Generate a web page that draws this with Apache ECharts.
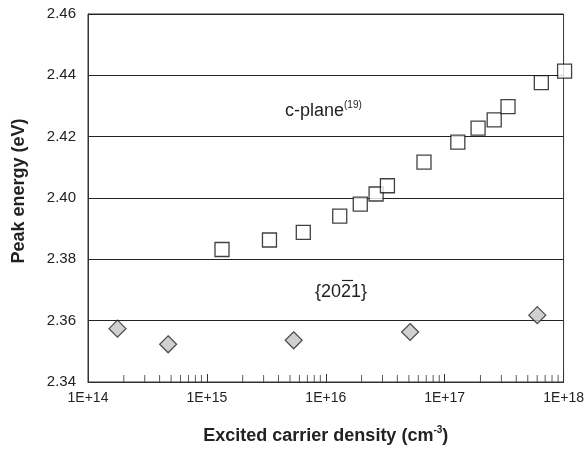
<!DOCTYPE html>
<html><head><meta charset="utf-8">
<script src="https://cdn.jsdelivr.net/npm/echarts@6/dist/echarts.min.js"></script>
<style>html,body{margin:0;padding:0;background:#fff}#c{width:587px;height:450px}</style>
</head><body><div id="c"></div>
<script>
// c-plane data: [density cm^-3, peak energy eV]
const cplaneX = [1.34e15, 3.36e15, 6.47e15, 1.31e16, 1.95e16, 2.65e16, 3.30e16, 6.70e16, 1.29e17, 1.91e17, 2.61e17, 3.41e17, 6.50e17, 1.02e18];
const cplaneY = [2.3832, 2.3863, 2.3888, 2.3941, 2.3980, 2.4013, 2.4040, 2.4117, 2.4182, 2.4228, 2.4255, 2.4298, 2.4376, 2.4414];
// {20-21} data
const semiX = [1.77e14, 4.72e14, 5.37e15, 5.12e16, 6.01e17];
const semiY = [2.3574, 2.3523, 2.3536, 2.3563, 2.3618];
// axis settings
const yTicks = [2.34, 2.36, 2.38, 2.40, 2.42, 2.44, 2.46];
const xDecades = [1e14, 1e15, 1e16, 1e17, 1e18];
const minorMult = [2, 3, 4, 5, 6, 7, 8, 9];

const minorTicks = [];
for (let i = 0; i < xDecades.length - 1; i++) {
  for (const m of minorMult) minorTicks.push([xDecades[i] * m, yTicks[0]]);
}
const FONT = 'Liberation Sans, Arial, Helvetica, sans-serif';
const chart = echarts.init(document.getElementById('c'), null, {renderer: 'canvas'});
chart.setOption({
  animation: false,
  backgroundColor: '#fff',
  grid: {left: 88, right: 22, top: 14, bottom: 68, show: true, borderColor: '#333', borderWidth: 1, backgroundColor: 'transparent'},
  xAxis: {
    type: 'log', logBase: 10, min: xDecades[0], max: xDecades[xDecades.length - 1],
    axisLine: {show: true, lineStyle: {color: '#333', width: 1}},
    axisTick: {show: true, inside: true, length: 8, lineStyle: {color: '#333'}},
    axisLabel: {fontFamily: FONT, fontSize: 14, color: '#222', margin: 9,
      formatter: v => '1E+' + Math.round(Math.log10(v))},
    splitLine: {show: false},
    name: '{a|Excited carrier density (cm}{s|-3}{a|)}',
    nameLocation: 'middle', nameGap: 43,
    nameTextStyle: {rich: {
      a: {fontFamily: FONT, fontSize: 18, fontWeight: 'bold', color: '#222', lineHeight: 20, verticalAlign: 'bottom'},
      s: {fontFamily: FONT, fontSize: 10, fontWeight: 'bold', color: '#222', lineHeight: 20, verticalAlign: 'top'}
    }}
  },
  yAxis: {
    type: 'value', min: yTicks[0], max: yTicks[yTicks.length - 1], interval: 0.02,
    axisLine: {show: true, lineStyle: {color: '#333'}},
    axisTick: {show: false},
    axisLabel: {fontFamily: FONT, fontSize: 15, color: '#222', margin: 12, formatter: v => v.toFixed(2)},
    splitLine: {show: true, lineStyle: {color: '#222', width: 1}},
    name: 'Peak energy (eV)', nameLocation: 'middle', nameGap: 60,
    nameTextStyle: {fontFamily: FONT, fontSize: 18, fontWeight: 'bold', color: '#222', padding: [0, 0, 0, 14]}
  },
  series: [
    {type: 'scatter', silent: true, clip: false, data: minorTicks,
      symbol: 'rect', symbolSize: [1, 7], symbolOffset: [0, -3.5],
      itemStyle: {color: '#333'}, z: 1},
    {type: 'scatter', clip: false, data: semiX.map((x, i) => [x, semiY[i]]),
      symbol: 'diamond', symbolSize: [17, 17],
      itemStyle: {color: '#c4c4c4', borderColor: '#222', borderWidth: 1.2}, z: 3},
    {type: 'scatter', clip: false, data: cplaneX.map((x, i) => [x, cplaneY[i]]),
      symbol: 'rect', symbolSize: [14, 14],
      itemStyle: {color: '#fff', borderColor: '#111', borderWidth: 1.3}, z: 3}
  ],
  graphic: [
    {type: 'text', left: 285, top: 100, style: {
      text: '{a|c-plane}{s|(19)}',
      rich: {
        a: {fontFamily: FONT, fontSize: 18, fill: '#222', lineHeight: 20, verticalAlign: 'bottom'},
        s: {fontFamily: FONT, fontSize: 10, fill: '#222', lineHeight: 20, verticalAlign: 'top'}
      }}},
    {type: 'text', left: 315, top: 283, style: {text: '{2021}', fontFamily: FONT, fontSize: 18, fill: '#222'}},
    {type: 'line', shape: {x1: 342, y1: 280.5, x2: 353, y2: 280.5}, style: {stroke: '#222', lineWidth: 1.2}}
  ]
});
</script></body></html>
